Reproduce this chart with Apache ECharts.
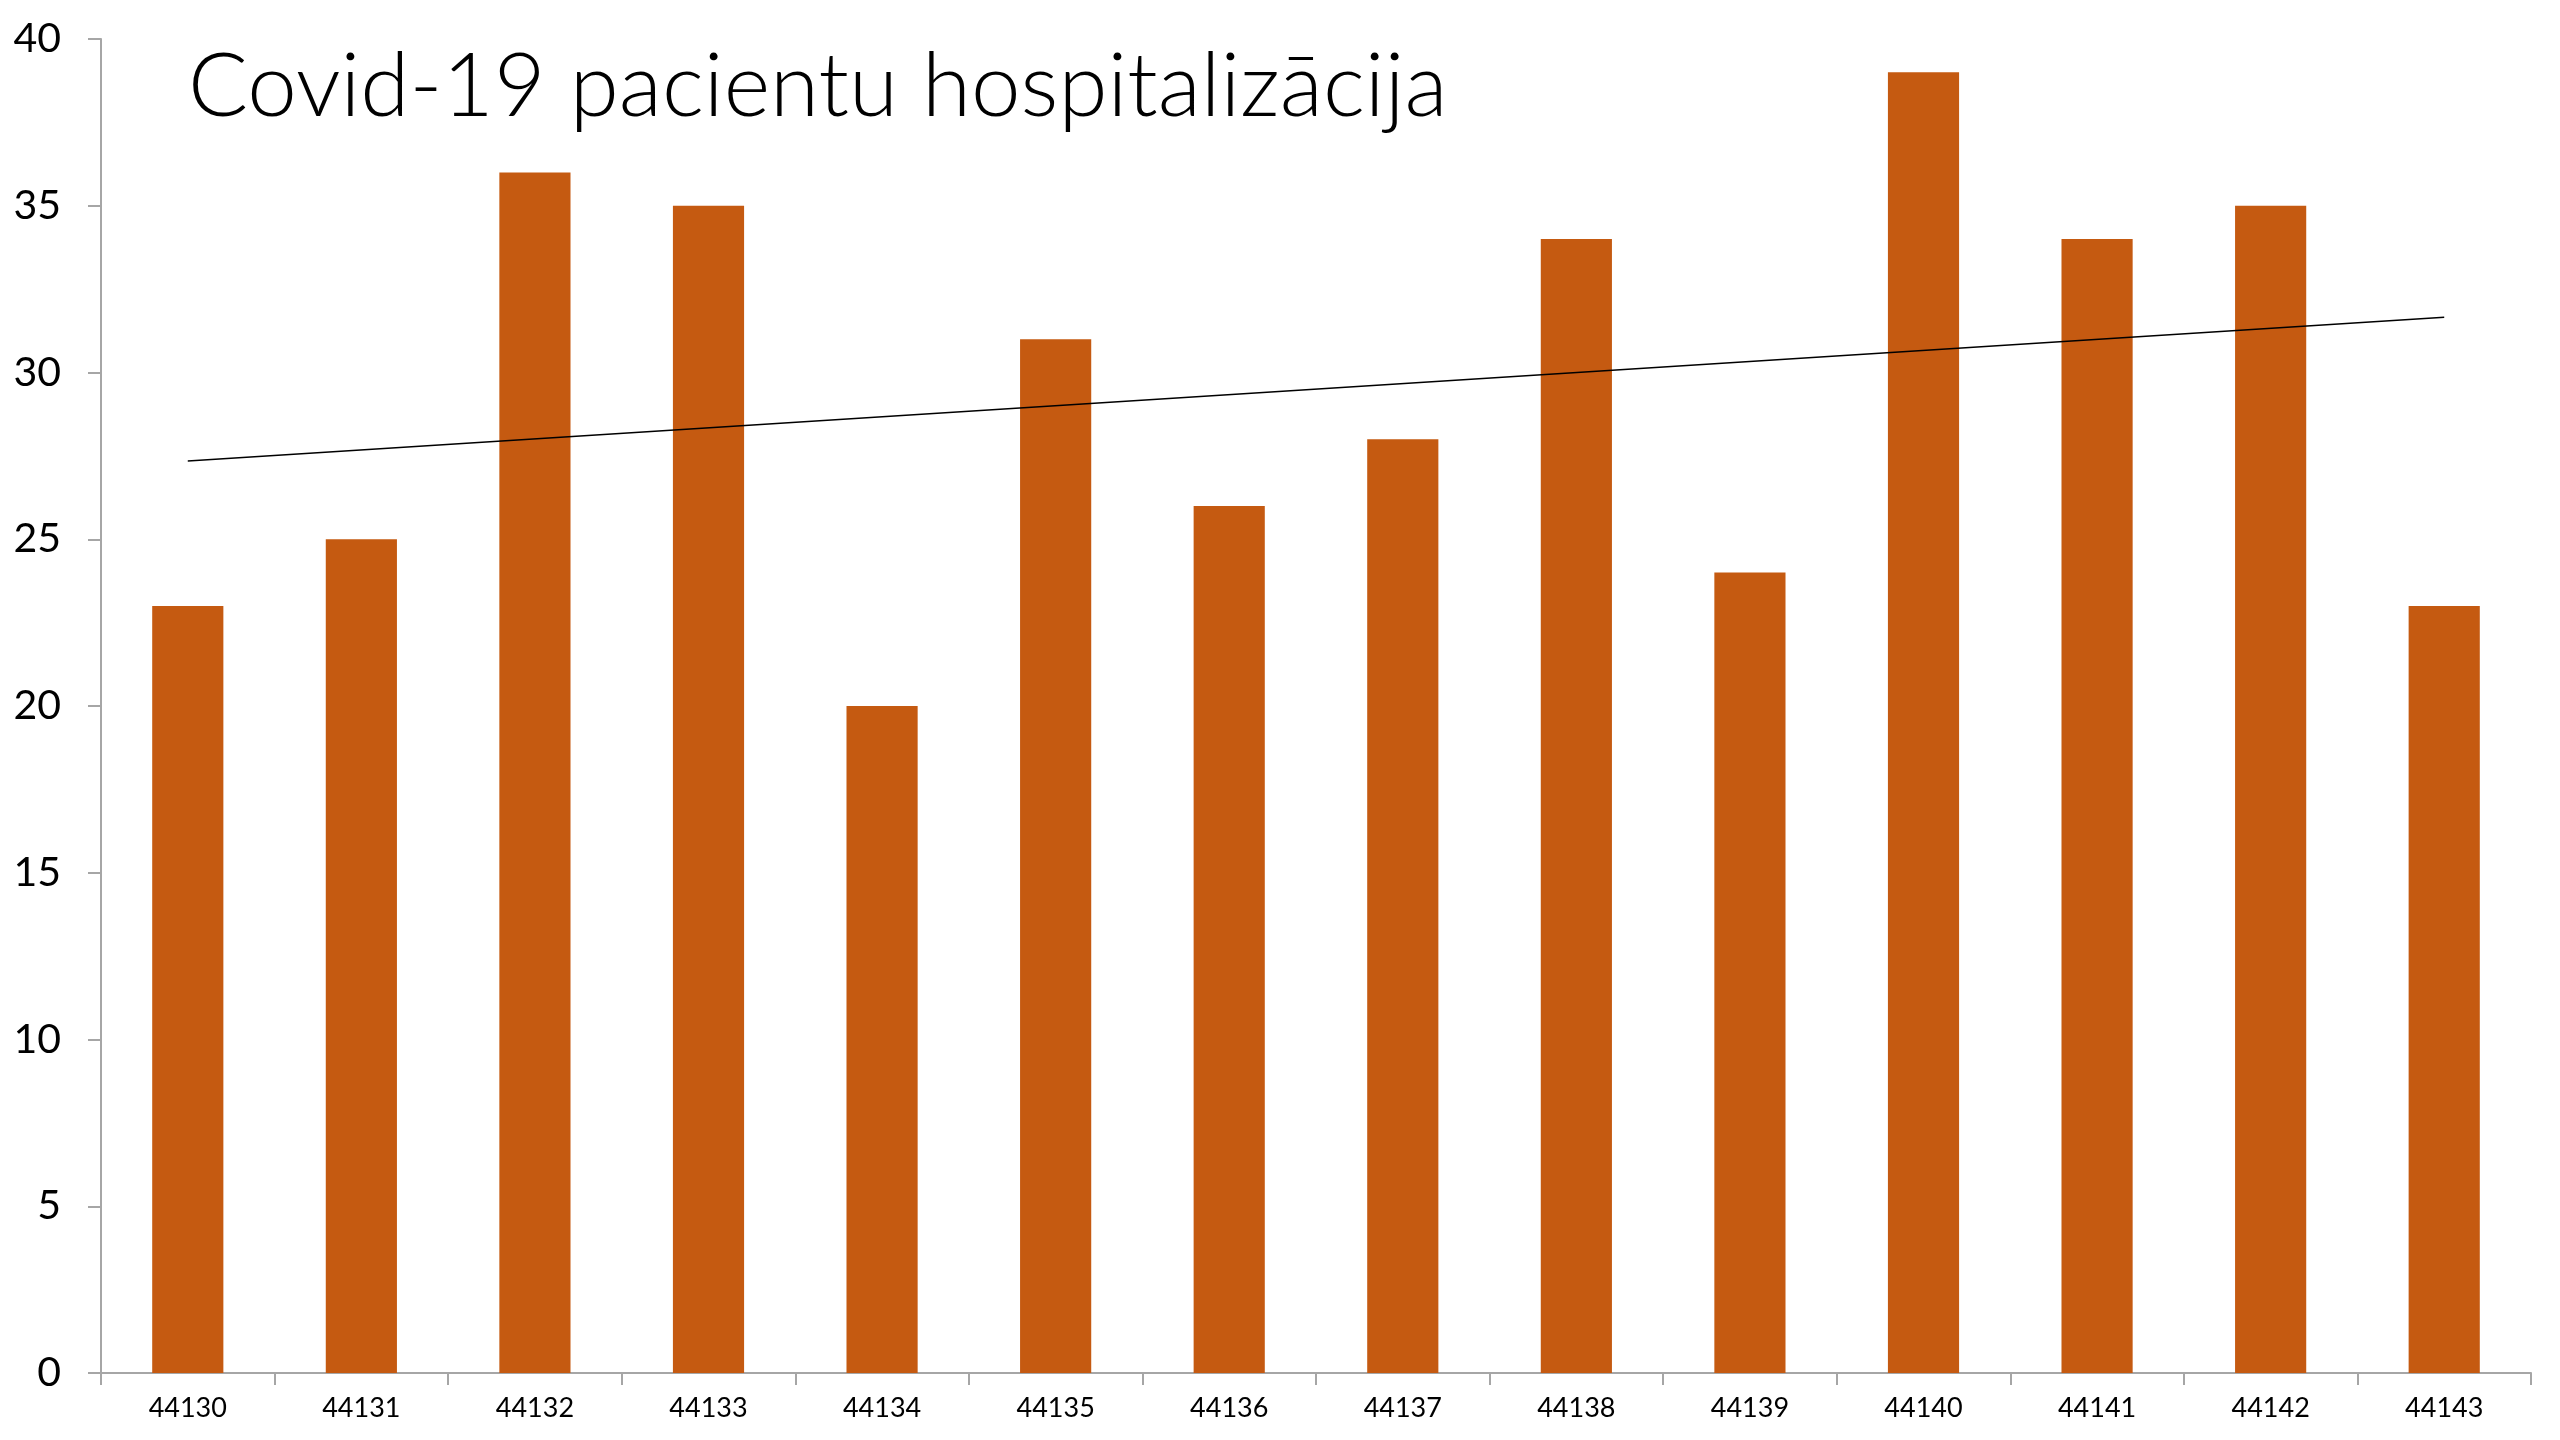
<!DOCTYPE html>
<html>
<head>
<meta charset="utf-8">
<title>Covid-19 pacientu hospitalizācija</title>
<script src="https://cdn.jsdelivr.net/npm/echarts@6/dist/echarts.min.js"></script>
<style>
  html, body { margin: 0; padding: 0; background: #fff; }
  #chart { width: 2560px; height: 1440px; }
</style>
</head>
<body>
<div id="chart"></div>
<script>
const days = ['44130', '44131', '44132', '44133', '44134', '44135', '44136',
  '44137', '44138', '44139', '44140', '44141', '44142', '44143'];
const patients = [23, 25, 36, 35, 20, 31, 26, 28, 34, 24, 39, 34, 35, 23];
// linear trendline, values read at the first and last day
const trendEnds = [27.35, 31.66];

const chart = echarts.init(document.getElementById('chart'));

const option = {
  backgroundColor: '#fff',
  animation: false,
  title: {
    text: 'Covid-19 pacientu hospitalizācija',
    left: 183,
    top: 38,
    textStyle: {
      fontFamily: 'Lato',
      fontWeight: 300,
      fontSize: 89,
      color: '#000'
    }
  },
  grid: { left: 101, right: 29, top: 39, bottom: 67, containLabel: false },
  xAxis: {
    type: 'category',
    data: days,
    axisLine: { lineStyle: { color: '#a6a6a6', width: 2 } },
    axisTick: { show: true, length: 12, lineStyle: { color: '#a6a6a6', width: 2 } },
    axisLabel: { color: '#000', fontFamily: 'Lato', fontSize: 27, margin: 22 }
  },
  yAxis: {
    type: 'value',
    min: 0,
    max: 40,
    interval: 5,
    axisLine: { show: true, lineStyle: { color: '#a6a6a6', width: 2 } },
    axisTick: { show: true, length: 13, lineStyle: { color: '#a6a6a6', width: 2 } },
    axisLabel: { color: '#000', fontFamily: 'Lato', fontSize: 41, margin: 40 },
    splitLine: { show: false }
  },
  series: [{
    type: 'bar',
    data: patients,
    barCategoryGap: '59%',
    itemStyle: { color: '#c55a11' },
    markLine: {
      silent: true,
      symbol: 'none',
      label: { show: false },
      lineStyle: { color: '#000', width: 1.5, type: 'solid' },
      data: [[
        { coord: [days[0], trendEnds[0]] },
        { coord: [days[days.length - 1], trendEnds[1]] }
      ]]
    }
  }]
};

chart.setOption(option);
</script>
</body>
</html>
